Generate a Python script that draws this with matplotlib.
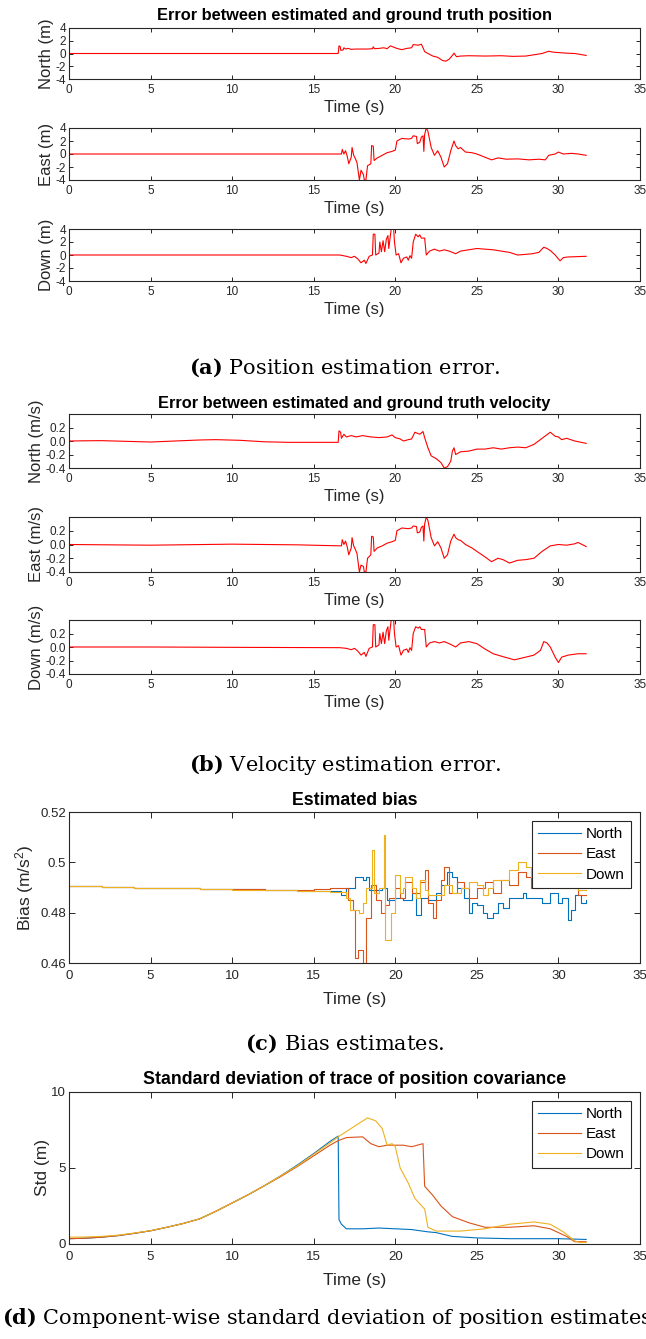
import matplotlib
matplotlib.use("Agg")
import matplotlib.pyplot as plt

plt.rcParams['font.family'] = ['Liberation Sans', 'DejaVu Sans']
plt.rcParams['axes.unicode_minus'] = False
plt.rcParams['mathtext.fontset'] = 'custom'
plt.rcParams['mathtext.rm'] = 'DejaVu Serif'
plt.rcParams['mathtext.bf'] = 'DejaVu Serif:bold'

# ---- (a) position error, metres ----
t_pos_n = [0, 16.5, 16.55, 16.62, 16.66, 16.8, 16.85, 16.95, 17.1, 17.3, 17.6, 18.0, 18.3, 18.6, 18.65,
           18.72, 19.0, 19.3, 19.5, 19.7, 19.9, 20.1, 20.4, 20.7, 21.0, 21.1, 21.4, 21.6, 21.7, 21.8,
           22.0, 22.3, 22.6, 22.9, 23.1, 23.3, 23.5, 23.6, 23.75, 24.0, 24.5, 25.5, 26.5, 27.2, 28.0,
           28.5, 29.0, 29.4, 29.7, 30.0, 30.5, 31.0, 31.7]
pos_n = [0.0, 0.0, 1.2, 1.1, 0.5, 0.55, 0.9, 0.7, 0.8, 0.65, 0.7, 0.7, 0.7, 0.75, 1.05,
         0.75, 0.8, 0.9, 0.75, 1.2, 1.0, 0.8, 0.6, 0.8, 0.9, 1.4, 1.3, 1.45, 0.9, 0.3,
         0.0, -0.4, -0.6, -1.1, -1.2, -0.9, -0.3, 0.05, -0.5, -0.4, -0.35, -0.4, -0.35, -0.45, -0.4,
         -0.2, 0.0, 0.35, 0.2, 0.15, 0.05, 0.0, -0.3]

t_pos_e = [0, 16.7, 16.75, 16.85, 16.95, 17.05, 17.15, 17.3, 17.35, 17.45, 17.55, 17.65, 17.8, 17.9,
           18.05, 18.1, 18.2, 18.3, 18.5, 18.55, 18.65, 18.7, 18.9, 19.2, 19.5, 19.8, 20.0, 20.1, 20.4,
           20.8, 21.0, 21.1, 21.3, 21.35, 21.5, 21.6, 21.7, 21.75, 21.8, 21.9, 22.0, 22.2, 22.4, 22.6,
           22.8, 23.0, 23.2, 23.4, 23.6, 23.7, 23.85, 24.0, 24.3, 24.7, 25.0, 25.5, 25.9, 26.3, 26.8,
           27.5, 28.2, 28.8, 29.2, 29.4, 29.8, 30.0, 30.3, 30.8, 31.2, 31.7]
pos_e = [0.0, 0.0, 0.7, 0.0, 0.5, -0.3, -1.5, -0.5, 1.0, -0.2, -0.7, -1.3, -4.0, -2.5,
         -3.2, -4.0, -4.0, -1.8, -1.5, 1.3, 1.2, -1.0, -0.6, -0.2, 0.2, 0.4, 0.6, 2.0, 2.4,
         2.3, 2.4, 2.8, 2.7, 1.6, 1.8, 2.6, 2.8, 0.4, 3.0, 4.0, 3.5, 1.0, -0.2, 0.5,
         -0.5, -2.0, -1.5, 0.5, 2.0, 1.3, 0.8, 1.0, 0.3, 0.2, 0.0, -0.5, -0.9, -0.6, -0.8,
         -0.75, -0.9, -0.8, -0.9, -0.2, 0.0, 0.3, 0.0, 0.1, 0.0, -0.2]

t_pos_d = [0, 16.6, 17.0, 17.3, 17.5, 17.7, 17.9, 18.1, 18.2, 18.4, 18.6, 18.65, 18.75, 18.8, 19.0,
           19.05, 19.15, 19.25, 19.35, 19.45, 19.55, 19.6, 19.7, 19.75, 19.9, 19.95, 20.05, 20.2,
           20.35, 20.5, 20.7, 20.8, 20.9, 21.0, 21.1, 21.25, 21.4, 21.5, 21.6, 21.8, 21.9, 22.1, 22.4,
           22.7, 23.0, 23.3, 23.7, 24.0, 24.5, 25.0, 25.5, 26.0, 26.5, 27.0, 27.5, 28.0, 28.4, 28.8,
           29.1, 29.3, 29.5, 29.8, 30.1, 30.3, 30.6, 31.7]
pos_d = [0.0, 0.0, -0.2, -0.4, -0.2, -0.6, -1.2, -0.8, -1.3, -0.2, 0.0, 3.2, 3.2, 0.0, 0.3,
         2.0, 0.5, 2.2, 0.5, 2.4, 3.0, 1.0, 3.0, 4.0, 4.0, 2.0, 0.0, 0.2,
         -1.2, -0.5, -0.3, -0.8, -0.1, -0.5, 2.0, 3.2, 2.8, 3.1, 2.6, 2.6, 0.0, 0.6, 0.9,
         0.6, 0.8, 0.6, 0.2, 0.6, 0.8, 1.0, 0.9, 0.8, 0.6, 0.4, 0.0, 0.1, 0.2, 0.4,
         1.2, 1.0, 0.7, 0.0, -0.9, -0.4, -0.3, -0.2]

# ---- (b) velocity error, m/s ----
t_vel_n = [0, 1, 2, 3.5, 5, 6.5, 8, 9, 10.5, 12, 13.5, 16.5, 16.55, 16.65, 16.7, 16.85, 17.0, 17.3,
           17.6, 18.0, 18.5, 19.0, 19.5, 19.8, 20.0, 20.3, 20.5, 20.8, 21.0, 21.2, 21.5, 21.7, 21.8,
           22.0, 22.2, 22.5, 22.8, 23.0, 23.2, 23.4, 23.5, 23.6, 23.7, 24.0, 24.5, 25.0, 25.5, 26.0,
           26.5, 27.0, 27.5, 28.0, 28.5, 29.0, 29.5, 29.8, 30.0, 30.2, 30.5, 31.0, 31.7]
vel_n = [0.0, 0.003, 0.005, -0.005, -0.015, 0.0, 0.015, 0.02, 0.01, -0.012, -0.02, -0.02, 0.15, 0.13, 0.04, 0.1, 0.06, 0.08,
         0.06, 0.08, 0.06, 0.05, 0.06, 0.09, 0.05, 0.03, 0.0, 0.02, 0.03, 0.13, 0.1, 0.14, 0.05,
         -0.1, -0.22, -0.26, -0.32, -0.4, -0.38, -0.3, -0.15, -0.1, -0.2, -0.16, -0.15, -0.12, -0.12, -0.1,
         -0.12, -0.1, -0.09, -0.1, -0.05, 0.04, 0.13, 0.07, 0.06, 0.02, 0.04, 0.0, -0.035]

t_vel_e = [0, 5, 10, 14, 16.7, 16.75, 16.85, 16.95, 17.05, 17.15, 17.3, 17.35, 17.45, 17.55, 17.65,
           17.8, 17.9, 18.05, 18.1, 18.2, 18.3, 18.5, 18.55, 18.65, 18.7, 18.9, 19.2, 19.5, 19.8, 20.0,
           20.1, 20.4, 20.8, 21.0, 21.1, 21.3, 21.35, 21.5, 21.6, 21.7, 21.75, 21.8, 21.9, 22.0, 22.2,
           22.4, 22.6, 22.8, 23.0, 23.2, 23.4, 23.6, 23.7, 23.85, 24.0, 24.3, 24.7, 25.0, 25.5, 25.9,
           26.3, 26.6, 27.0, 27.5, 28.0, 28.5, 29.0, 29.5, 30.0, 30.5, 31.0, 31.2, 31.7]
vel_e = [0.0, -0.01, 0.005, -0.005, -0.02, 0.07, 0.0, 0.05, -0.03, -0.15, -0.05, 0.1, -0.02, -0.07, -0.13,
         -0.4, -0.3, -0.32, -0.4, -0.4, -0.2, -0.15, 0.12, 0.11, -0.1, -0.05, -0.02, 0.02, 0.04, 0.06,
         0.2, 0.24, 0.23, 0.24, 0.27, 0.26, 0.17, 0.18, 0.25, 0.27, 0.05, 0.3, 0.4, 0.35, 0.1,
         -0.02, 0.04, -0.05, -0.2, -0.15, 0.05, 0.15, 0.1, 0.07, 0.06, 0.0, -0.05, -0.1, -0.18, -0.25,
         -0.2, -0.22, -0.27, -0.23, -0.22, -0.2, -0.1, -0.02, 0.0, -0.01, 0.01, 0.03, -0.03]

t_vel_d = [0, 5, 10, 16.6, 17.0, 17.3, 17.5, 17.7, 17.9, 18.1, 18.2, 18.4, 18.6, 18.65, 18.75, 18.8,
           19.0, 19.05, 19.15, 19.25, 19.35, 19.45, 19.55, 19.6, 19.7, 19.75, 19.9, 19.95, 20.05, 20.2,
           20.35, 20.5, 20.7, 20.8, 20.9, 21.0, 21.1, 21.25, 21.4, 21.5, 21.6, 21.8, 21.9, 22.1, 22.4,
           22.7, 23.0, 23.3, 23.7, 24.0, 24.5, 25.0, 25.5, 26.0, 26.7, 27.3, 28.0, 28.5, 28.9, 29.1,
           29.3, 29.5, 29.8, 30.0, 30.2, 30.6, 31.2, 31.7]
vel_d = [0.0, 0.0, -0.005, -0.01, -0.02, -0.04, -0.02, -0.06, -0.12, -0.08, -0.14, -0.02, 0.0, 0.33, 0.33, 0.0,
         0.03, 0.2, 0.05, 0.22, 0.05, 0.24, 0.3, 0.1, 0.3, 0.4, 0.4, 0.2, 0.0, 0.02,
         -0.12, -0.05, -0.03, -0.08, -0.01, -0.05, 0.2, 0.3, 0.28, 0.3, 0.26, 0.26, 0.0, 0.06, 0.08,
         0.06, 0.08, 0.05, 0.0, 0.06, 0.08, 0.05, -0.03, -0.1, -0.15, -0.19, -0.15, -0.12, -0.05, 0.08,
         0.06, 0.0, -0.15, -0.23, -0.15, -0.12, -0.1, -0.1]

# ---- (c) estimated bias, m/s^2 ----
t_bias_n = [0, 2, 4, 6, 8, 10, 12, 14, 16, 16.5, 16.7, 17.0, 17.5, 18.0, 18.2, 18.4, 19.0, 19.2, 19.5,
            20.0, 20.5, 21.0, 21.3, 21.6, 22.0, 22.5, 22.8, 23.2, 23.5, 23.8, 24.2, 24.5, 24.7, 25.0,
            25.4, 25.6, 26.0, 26.3, 26.6, 27.0, 27.5, 27.8, 28.0, 28.5, 29.0, 29.5, 30.0, 30.2, 30.6,
            30.8, 31.0, 31.4, 31.7]
bias_n = [0.4905, 0.4902, 0.4899, 0.4897, 0.4895, 0.4893, 0.4890, 0.4888, 0.4886, 0.4885, 0.487, 0.490, 0.494, 0.493, 0.494, 0.489, 0.489, 0.490, 0.485,
          0.486, 0.485, 0.488, 0.479, 0.486, 0.485, 0.488, 0.491, 0.496, 0.494, 0.490, 0.486, 0.480, 0.484, 0.483,
          0.480, 0.478, 0.480, 0.484, 0.482, 0.486, 0.486, 0.488, 0.486, 0.486, 0.484, 0.488, 0.484, 0.486, 0.477,
          0.481, 0.487, 0.484, 0.485]

t_bias_e = [0, 2, 4, 6, 8, 10, 12, 13, 14, 15, 16, 16.5, 17.1, 17.4, 17.5, 17.7, 18.0, 18.2, 18.5, 18.8,
            19.1, 19.4, 19.6, 20.0, 20.3, 20.6, 21.0, 21.5, 21.8, 22.0, 22.3, 22.5, 22.8, 23.0, 23.3,
            23.8, 24.2, 24.5, 25.0, 25.5, 26.0, 26.5, 27.0, 27.5, 28.0, 28.3, 29.0, 29.5, 30.0, 30.5,
            30.9, 31.2, 31.7]
bias_e = [0.4905, 0.4902, 0.4899, 0.4897, 0.4895, 0.4893, 0.4890, 0.4889, 0.4891, 0.4893, 0.4897, 0.4899, 0.485, 0.481, 0.462, 0.465, 0.460, 0.478, 0.491, 0.485,
          0.480, 0.483, 0.486, 0.490, 0.486, 0.492, 0.488, 0.492, 0.497, 0.484, 0.478, 0.485, 0.493, 0.498, 0.488,
          0.492, 0.490, 0.486, 0.490, 0.492, 0.488, 0.493, 0.491, 0.496, 0.494, 0.490, 0.494, 0.492, 0.496, 0.493,
          0.490, 0.487, 0.487]

t_bias_d = [0, 2, 4, 6, 8, 10, 12, 14, 16, 16.5, 17.0, 17.2, 17.8, 18.0, 18.2, 18.6, 18.7, 19.0, 19.3,
            19.4, 19.7, 19.75, 20.0, 20.3, 20.5, 20.6, 21.0, 21.3, 21.5, 21.8, 22.0, 22.5, 23.0, 23.5,
            24.0, 24.5, 25.0, 25.4, 25.7, 26.0, 26.5, 27.0, 27.5, 28.0, 28.3, 29.0, 30.0, 30.8, 31.2, 31.7]
bias_d = [0.4905, 0.4902, 0.4899, 0.4897, 0.4895, 0.4892, 0.4889, 0.4886, 0.4883, 0.4882, 0.486, 0.481, 0.480, 0.484, 0.490, 0.505, 0.488, 0.490, 0.511,
          0.469, 0.469, 0.480, 0.495, 0.488, 0.490, 0.494, 0.490, 0.486, 0.493, 0.489, 0.487, 0.487, 0.491, 0.488,
          0.490, 0.492, 0.491, 0.487, 0.490, 0.493, 0.493, 0.497, 0.500, 0.498, 0.494, 0.492, 0.490, 0.491, 0.489, 0.489]

# ---- (d) std of position covariance, metres ----
t_std_n = [0, 1, 2, 3, 4, 5, 6, 7, 8, 9, 10, 11, 12, 13, 14, 15, 16, 16.5, 16.55, 16.7, 17.0, 18.0,
           19.0, 20.0, 21.0, 22.0, 22.5, 23.5, 25.0, 27.0, 30.0, 31.7]
std_n = [0.35, 0.38, 0.45, 0.55, 0.7, 0.87, 1.1, 1.35, 1.65, 2.15, 2.7, 3.25, 3.85, 4.5, 5.2, 5.95, 6.75, 7.1, 1.6, 1.3, 1.0, 1.0,
         1.05, 1.0, 0.95, 0.8, 0.75, 0.5, 0.4, 0.35, 0.35, 0.3]

t_std_e = [0, 1, 2, 3, 4, 5, 6, 7, 8, 9, 10, 11, 12, 13, 14, 15, 16, 16.5, 17.0, 18.0, 18.5, 19.0,
           19.5, 20.5, 21.0, 21.7, 21.8, 22.3, 22.8, 23.5, 24.5, 25.5, 27.0, 28.5, 29.5, 30.5, 31.0, 31.7]
std_e = [0.35, 0.38, 0.45, 0.55, 0.7, 0.87, 1.1, 1.35, 1.65, 2.15, 2.7, 3.25, 3.85, 4.45, 5.1, 5.8, 6.5, 6.8, 7.0, 7.05, 6.6, 6.4,
         6.5, 6.5, 6.4, 6.6, 3.8, 3.2, 2.5, 1.8, 1.4, 1.1, 1.1, 1.2, 1.0, 0.5, 0.15, 0.15]

t_std_d = [0, 1, 2, 3, 4, 5, 6, 7, 8, 9, 10, 11, 12, 13, 14, 15, 16, 16.5, 18.3, 18.8, 19.2, 19.5,
           19.8, 20.0, 20.3, 20.8, 21.2, 21.8, 22.0, 22.5, 24.0, 25.5, 27.0, 28.5, 29.5, 30.3, 31.0, 31.3, 31.7]
std_d = [0.45, 0.46, 0.5, 0.58, 0.72, 0.88, 1.1, 1.35, 1.65, 2.15, 2.7, 3.25, 3.85, 4.5, 5.15, 5.9, 6.65, 7.05, 8.3, 8.1, 7.6, 6.5,
         6.6, 6.4, 5.0, 4.0, 3.0, 2.3, 1.1, 0.85, 0.85, 1.0, 1.3, 1.45, 1.3, 0.8, 0.2, 0.1, 0.1]

x_ticks = [0, 5, 10, 15, 20, 25, 30, 35]
colors = ['#0072BD', '#D95319', '#EDB120']
names = ['North', 'East', 'Down']

W, H = 646, 1339
fig = plt.figure(figsize=(W / 100, H / 100), dpi=100)
ink = '#262626'
lw = 0.8


def box(top, bottom):
    # pixel rows -> figure fraction rect
    return [69 / W, 1 - bottom / H, 571 / W, (bottom - top) / H]


def style(ax, ticksize, ticklen, pad):
    ax.set_xlim(0, 35)
    ax.set_xticks(x_ticks)
    ax.tick_params(direction='in', top=True, right=True, length=ticklen, width=0.7,
                   labelsize=ticksize, colors=ink, pad=2)
    ax.tick_params(axis='x', pad=pad)
    for s in ax.spines.values():
        s.set_color(ink)
        s.set_linewidth(0.8)


small = [
    ((28, 79), t_pos_n, pos_n, 'North (m)'),
    ((128, 180), t_pos_e, pos_e, 'East (m)'),
    ((229, 281), t_pos_d, pos_d, 'Down (m)'),
    ((414, 468), t_vel_n, vel_n, 'North (m/s)'),
    ((517, 572), t_vel_e, vel_e, 'East (m/s)'),
    ((620, 674), t_vel_d, vel_d, 'Down (m/s)'),
]

axes = []
for i, (rows, t, v, lab) in enumerate(small):
    ax = fig.add_axes(box(*rows))
    ax.plot(t, v, color='red', lw=lw)
    style(ax, 8.5, 3, 3.5)
    if i < 3:
        ax.set_ylim(-4, 4)
        ax.set_yticks([-4, -2, 0, 2, 4])
    else:
        ax.set_ylim(-0.4, 0.4)
        ax.set_yticks([-0.4, -0.2, 0, 0.2])
    ax.set_xlabel('Time (s)', fontsize=12, color=ink, labelpad=3)
    ax.set_ylabel(lab, fontsize=12, color=ink, labelpad=1)
    axes.append(ax)

axes[0].set_title('Error between estimated and ground truth position', fontsize=11.8,
                  fontweight='bold', pad=5.5)
axes[3].set_title('Error between estimated and ground truth velocity', fontsize=11.8,
                  fontweight='bold', pad=4.5)

leg_kw = dict(loc='upper right', fontsize=11, fancybox=False, edgecolor=ink,
              handlelength=2.8, borderaxespad=0.6, labelspacing=0.4, borderpad=0.4,
              handletextpad=0.3, framealpha=1)

# bias panel
axc = fig.add_axes(box(812, 963))
for t, v, c, n in zip([t_bias_n, t_bias_e, t_bias_d], [bias_n, bias_e, bias_d], colors, names):
    axc.plot(t, v, color=c, lw=lw, drawstyle='steps-post', label=n)
style(axc, 9.5, 4, 5)
axc.set_ylim(0.46, 0.52)
axc.set_yticks([0.46, 0.48, 0.5, 0.52])
axc.set_yticklabels(['0.46', '0.48', '0.5', '0.52'])
axc.set_xlabel('Time (s)', fontsize=12.5, color=ink, labelpad=7)
axc.set_ylabel(r'Bias ($\mathregular{m/s^2}$)', fontsize=12.5, color=ink, labelpad=3)
axc.set_title('Estimated bias', fontsize=12.8, fontweight='bold', pad=5)
axc.legend(**leg_kw).get_frame().set_linewidth(0.8)

# std panel
axd = fig.add_axes(box(1092, 1244))
for t, v, c, n in zip([t_std_n, t_std_e, t_std_d], [std_n, std_e, std_d], colors, names):
    axd.plot(t, v, color=c, lw=lw, label=n)
style(axd, 9.5, 4, 5)
axd.set_ylim(0, 10)
axd.set_yticks([0, 5, 10])
axd.set_xlabel('Time (s)', fontsize=12.5, color=ink, labelpad=7)
axd.set_ylabel('Std (m)', fontsize=12.5, color=ink, labelpad=1)
axd.set_title('Standard deviation of trace of position covariance', fontsize=12.8,
              fontweight='bold', pad=6)
axd.legend(**leg_kw).get_frame().set_linewidth(0.8)

# sub-figure captions (page centre lies right of the crop, last one runs off the edge)
captions = [
    (345, 368, r'$\mathbf{(a)}$ Position estimation error.'),
    (345, 765, r'$\mathbf{(b)}$ Velocity estimation error.'),
    (345, 1044, r'$\mathbf{(c)}$ Bias estimates.'),
    (330, 1318, r'$\mathbf{(d)}$ Component-wise standard deviation of position estimates.'),
]
for x, y, txt in captions:
    fig.text(x / W, 1 - y / H, txt, ha='center', va='center', fontsize=15,
             family='DejaVu Serif', color='black')

fig.savefig('out.png', dpi=100)
